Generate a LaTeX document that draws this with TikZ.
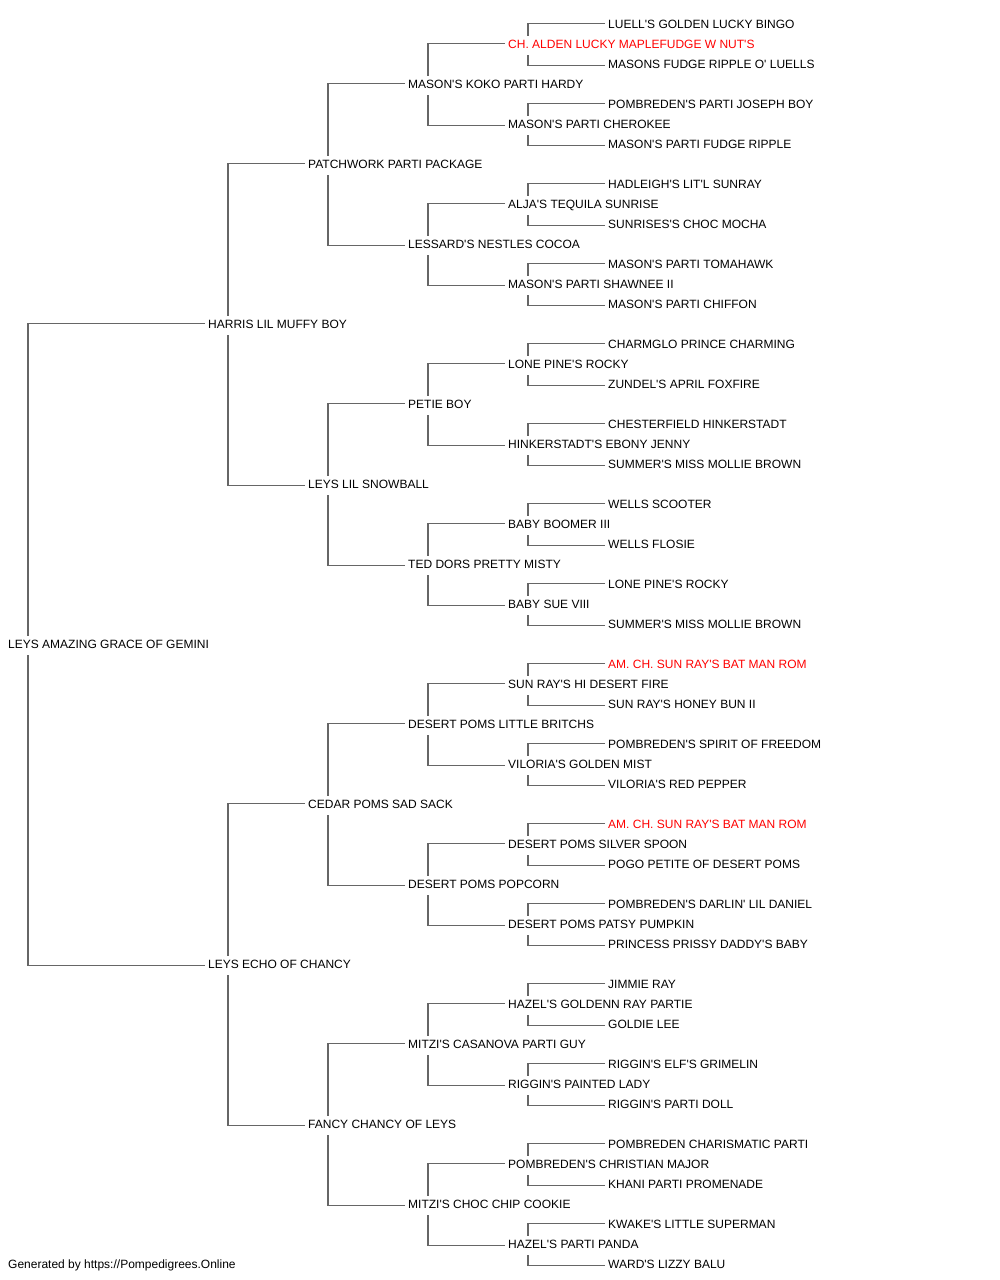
\documentclass[tikz,border=0pt]{standalone}
\usepackage{fontspec}
\setmainfont{Liberation Sans}[Ligatures=TeXOff]
\usetikzlibrary{calc}
\definecolor{linkgray}{HTML}{666666}
\definecolor{champ}{HTML}{FF0000}
\tikzset{
  dog/.style={anchor=west, inner sep=0pt, text height=8.6pt, text depth=0pt, font=\fontsize{12}{14}\selectfont, text=black},
  champdog/.style={dog, text=champ},
  link/.style={draw=linkgray, line width=1.5pt}
}
\begin{document}
\begin{tikzpicture}[x=1pt,y=-1pt]
\useasboundingbox (0,-1) rectangle (1000,1279);
% generation 0
\node[dog] (n0x0) at (8,643.3) {LEYS AMAZING GRACE OF GEMINI};
% generation 1
\node[dog] (n1x0) at (208,323.3) {HARRIS LIL MUFFY BOY};
\node[dog] (n1x1) at (208,963.3) {LEYS ECHO OF CHANCY};
% generation 2
\node[dog] (n2x0) at (308,163.3) {PATCHWORK PARTI PACKAGE};
\node[dog] (n2x1) at (308,483.3) {LEYS LIL SNOWBALL};
\node[dog] (n2x2) at (308,803.3) {CEDAR POMS SAD SACK};
\node[dog] (n2x3) at (308,1123.3) {FANCY CHANCY OF LEYS};
% generation 3
\node[dog] (n3x0) at (408,83.3) {MASON'S KOKO PARTI HARDY};
\node[dog] (n3x1) at (408,243.3) {LESSARD'S NESTLES COCOA};
\node[dog] (n3x2) at (408,403.3) {PETIE BOY};
\node[dog] (n3x3) at (408,563.3) {TED DORS PRETTY MISTY};
\node[dog] (n3x4) at (408,723.3) {DESERT POMS LITTLE BRITCHS};
\node[dog] (n3x5) at (408,883.3) {DESERT POMS POPCORN};
\node[dog] (n3x6) at (408,1043.3) {MITZI'S CASANOVA PARTI GUY};
\node[dog] (n3x7) at (408,1203.3) {MITZI'S CHOC CHIP COOKIE};
% generation 4
\node[champdog] (n4x0) at (508,43.3) {CH. ALDEN LUCKY MAPLEFUDGE W NUT'S};
\node[dog] (n4x1) at (508,123.3) {MASON'S PARTI CHEROKEE};
\node[dog] (n4x2) at (508,203.3) {ALJA'S TEQUILA SUNRISE};
\node[dog] (n4x3) at (508,283.3) {MASON'S PARTI SHAWNEE II};
\node[dog] (n4x4) at (508,363.3) {LONE PINE'S ROCKY};
\node[dog] (n4x5) at (508,443.3) {HINKERSTADT'S EBONY JENNY};
\node[dog] (n4x6) at (508,523.3) {BABY BOOMER III};
\node[dog] (n4x7) at (508,603.3) {BABY SUE VIII};
\node[dog] (n4x8) at (508,683.3) {SUN RAY'S HI DESERT FIRE};
\node[dog] (n4x9) at (508,763.3) {VILORIA'S GOLDEN MIST};
\node[dog] (n4x10) at (508,843.3) {DESERT POMS SILVER SPOON};
\node[dog] (n4x11) at (508,923.3) {DESERT POMS PATSY PUMPKIN};
\node[dog] (n4x12) at (508,1003.3) {HAZEL'S GOLDENN RAY PARTIE};
\node[dog] (n4x13) at (508,1083.3) {RIGGIN'S PAINTED LADY};
\node[dog] (n4x14) at (508,1163.3) {POMBREDEN'S CHRISTIAN MAJOR};
\node[dog] (n4x15) at (508,1243.3) {HAZEL'S PARTI PANDA};
% generation 5
\node[dog] (n5x0) at (608,23.3) {LUELL'S GOLDEN LUCKY BINGO};
\node[dog] (n5x1) at (608,63.3) {MASONS FUDGE RIPPLE O' LUELLS};
\node[dog] (n5x2) at (608,103.3) {POMBREDEN'S PARTI JOSEPH BOY};
\node[dog] (n5x3) at (608,143.3) {MASON'S PARTI FUDGE RIPPLE};
\node[dog] (n5x4) at (608,183.3) {HADLEIGH'S LIT'L SUNRAY};
\node[dog] (n5x5) at (608,223.3) {SUNRISES'S CHOC MOCHA};
\node[dog] (n5x6) at (608,263.3) {MASON'S PARTI TOMAHAWK};
\node[dog] (n5x7) at (608,303.3) {MASON'S PARTI CHIFFON};
\node[dog] (n5x8) at (608,343.3) {CHARMGLO PRINCE CHARMING};
\node[dog] (n5x9) at (608,383.3) {ZUNDEL'S APRIL FOXFIRE};
\node[dog] (n5x10) at (608,423.3) {CHESTERFIELD HINKERSTADT};
\node[dog] (n5x11) at (608,463.3) {SUMMER'S MISS MOLLIE BROWN};
\node[dog] (n5x12) at (608,503.3) {WELLS SCOOTER};
\node[dog] (n5x13) at (608,543.3) {WELLS FLOSIE};
\node[dog] (n5x14) at (608,583.3) {LONE PINE'S ROCKY};
\node[dog] (n5x15) at (608,623.3) {SUMMER'S MISS MOLLIE BROWN};
\node[champdog] (n5x16) at (608,663.3) {AM. CH. SUN RAY'S BAT MAN ROM};
\node[dog] (n5x17) at (608,703.3) {SUN RAY'S HONEY BUN II};
\node[dog] (n5x18) at (608,743.3) {POMBREDEN'S SPIRIT OF FREEDOM};
\node[dog] (n5x19) at (608,783.3) {VILORIA'S RED PEPPER};
\node[champdog] (n5x20) at (608,823.3) {AM. CH. SUN RAY'S BAT MAN ROM};
\node[dog] (n5x21) at (608,863.3) {POGO PETITE OF DESERT POMS};
\node[dog] (n5x22) at (608,903.3) {POMBREDEN'S DARLIN' LIL DANIEL};
\node[dog] (n5x23) at (608,943.3) {PRINCESS PRISSY DADDY'S BABY};
\node[dog] (n5x24) at (608,983.3) {JIMMIE RAY};
\node[dog] (n5x25) at (608,1023.3) {GOLDIE LEE};
\node[dog] (n5x26) at (608,1063.3) {RIGGIN'S ELF'S GRIMELIN};
\node[dog] (n5x27) at (608,1103.3) {RIGGIN'S PARTI DOLL};
\node[dog] (n5x28) at (608,1143.3) {POMBREDEN CHARISMATIC PARTI};
\node[dog] (n5x29) at (608,1183.3) {KHANI PARTI PROMENADE};
\node[dog] (n5x30) at (608,1223.3) {KWAKE'S LITTLE SUPERMAN};
\node[dog] (n5x31) at (608,1263.3) {WARD'S LIZZY BALU};
% footer
\node[dog] (footer) at (8,1263.3) {Generated by https://Pompedigrees.Online};
% connectors
\foreach \g in {0,...,4} {
  \pgfmathtruncatemacro\h{\g+1}
  \pgfmathtruncatemacro\m{2^\g-1}
  \foreach \i in {0,...,\m} {
    \pgfmathtruncatemacro\s{2*\i}
    \pgfmathtruncatemacro\d{2*\i+1}
    \draw[link] ($(n\h x\s.west)+(-3,-1)$) -| ($(n\g x\i.west)+(20,-8.5)$);
    \draw[link] ($(n\h x\d.west)+(-3,1)$) -| ($(n\g x\i.west)+(20,10.8)$);
  }
}
\end{tikzpicture}
\end{document}
